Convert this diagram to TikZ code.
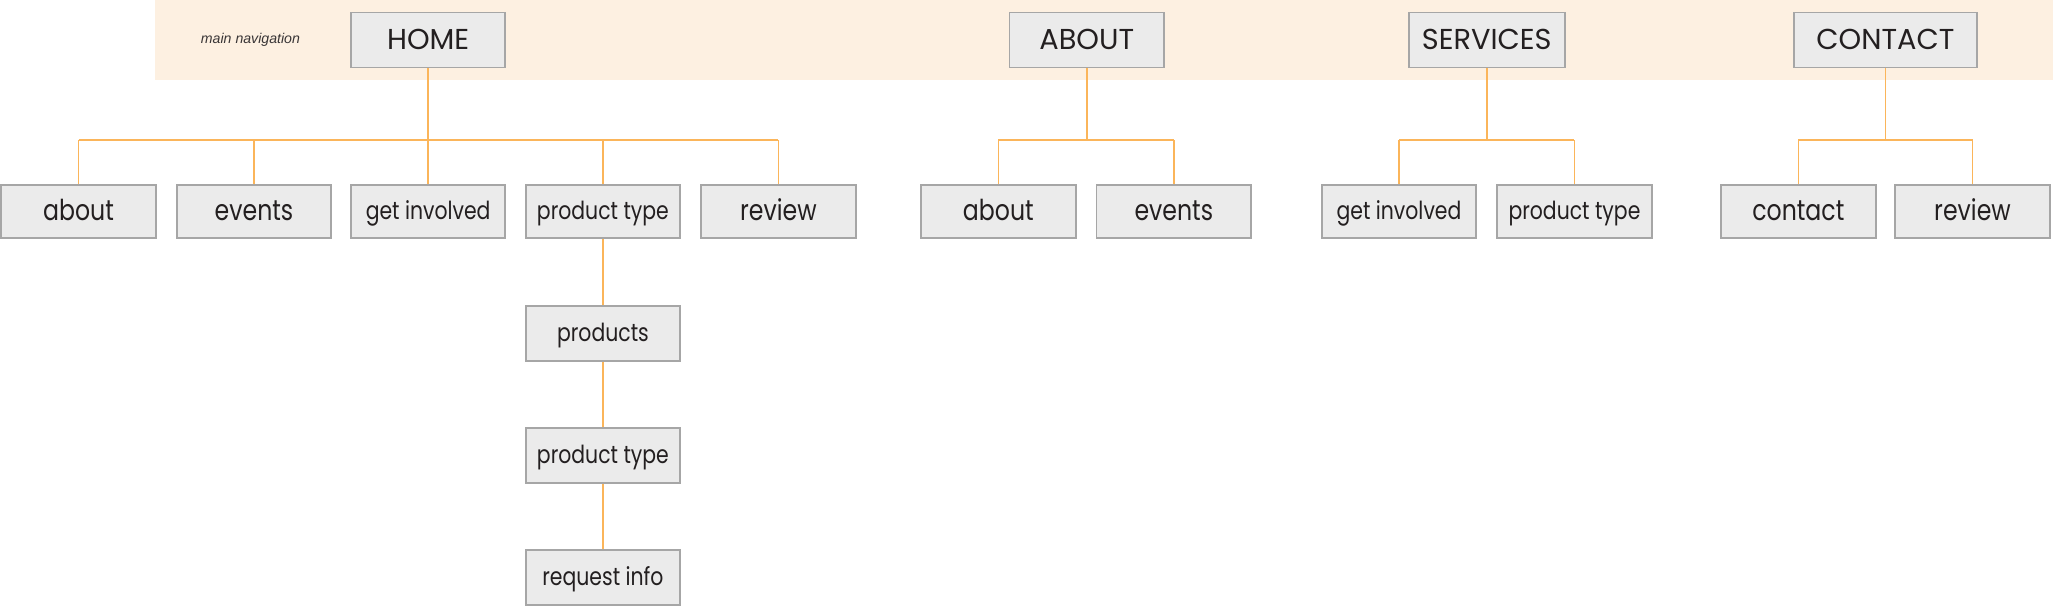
\documentclass[tikz,border=0pt]{standalone}
\usepackage{fontspec}
\setmainfont{Poppins}
\newfontfamily\narrowfont[FakeStretch=0.82]{Poppins}
\newfontfamily\captionfont{Liberation Sans}
\definecolor{band}{HTML}{FDF0E1}
\definecolor{boxfill}{HTML}{EBEBEB}
\definecolor{boxline}{HTML}{A6A6A6}
\definecolor{link}{HTML}{FBB55A}
\definecolor{ink}{HTML}{231F20}
\begin{document}
\begin{tikzpicture}[x=1bp,y=-1bp,
  navbox/.style={draw=boxline,fill=boxfill,line width=1.4bp,inner sep=0pt,
     minimum width=118bp,minimum height=41bp,text=ink,text height=12bp,text depth=0pt,
     font=\narrowfont\fontsize{19bp}{21bp}\selectfont},
  topbox/.style={navbox,minimum height=42bp,text height=15.3bp,font=\fontsize{22bp}{24bp}\selectfont},
  bigtxt/.style={text height=14.4bp,font=\narrowfont\fontsize{22bp}{24bp}\selectfont},
  linkline/.style={draw=link,line width=1.2bp},
  busline/.style={draw=link,line width=1.5bp}]
\useasboundingbox (0,0) rectangle (1568,463);
\fill[band] (118,0) rectangle (1568,61);
\node[anchor=base,inner sep=0pt,text=ink!90,font=\captionfont\itshape\fontsize{10.8bp}{12bp}\selectfont] (mn) at (191.3,33.1) {main navigation};
% top level
\node[topbox] (home) at (327,30.5) {HOME};
\node[topbox] (aboutT) at (830,30.5) {ABOUT};
\node[topbox,minimum width=119bp] (serv) at (1135.5,30.5) {SERVICES};
\node[topbox,minimum width=140bp] (cont) at (1440,30.5) {CONTACT};
% second level
\node[navbox,bigtxt] (h1) at (60,161.5) {about};
\node[navbox,bigtxt] (h2) at (194,161.5) {events};
\node[navbox] (h3) at (327,161.5) {get involved};
\node[navbox] (h4) at (460.5,161.5) {product type};
\node[navbox,bigtxt] (h5) at (594.5,161.5) {review};
\node[navbox,bigtxt] (a1) at (762.5,161.5) {about};
\node[navbox,bigtxt] (a2) at (896.5,161.5) {events};
\node[navbox] (s1) at (1068.5,161.5) {get involved};
\node[navbox] (s2) at (1202.5,161.5) {product type};
\node[navbox,bigtxt] (c1) at (1373.5,161.5) {contact};
\node[navbox,bigtxt] (c2) at (1506.5,161.5) {review};
% chain
\node[navbox,minimum height=42bp] (p1) at (460.5,254.5) {products};
\node[navbox,minimum height=42bp] (p2) at (460.5,348) {product type};
\node[navbox,minimum height=42bp] (p3) at (460.5,441) {request info};
% buses
\coordinate (hb) at (327,107);
\coordinate (ab) at (830,107);
\coordinate (sb) at (1135.5,107);
\coordinate (cb) at (1440,107);
\draw[linkline] (home.south) -- (hb);
\draw[linkline] (aboutT.south) -- (ab);
\draw[linkline] (serv.south) -- (sb);
\draw[linkline] (cont.south) -- (cb);
\draw[busline] (h1.north |- hb) -- (h5.north |- hb);
\draw[busline] (a1.north |- ab) -- (a2.north |- ab);
\draw[busline] (s1.north |- sb) -- (s2.north |- sb);
\draw[busline] (c1.north |- cb) -- (c2.north |- cb);
\foreach \n in {h1,h2,h3,h4,h5}{\draw[linkline] (\n.north) -- (\n.north |- hb);}
\foreach \n in {a1,a2}{\draw[linkline] (\n.north) -- (\n.north |- ab);}
\foreach \n in {s1,s2}{\draw[linkline] (\n.north) -- (\n.north |- sb);}
\foreach \n in {c1,c2}{\draw[linkline] (\n.north) -- (\n.north |- cb);}
\draw[linkline] (h4.south) -- (p1.north);
\draw[linkline] (p1.south) -- (p2.north);
\draw[linkline] (p2.south) -- (p3.north);
\end{tikzpicture}
\end{document}
